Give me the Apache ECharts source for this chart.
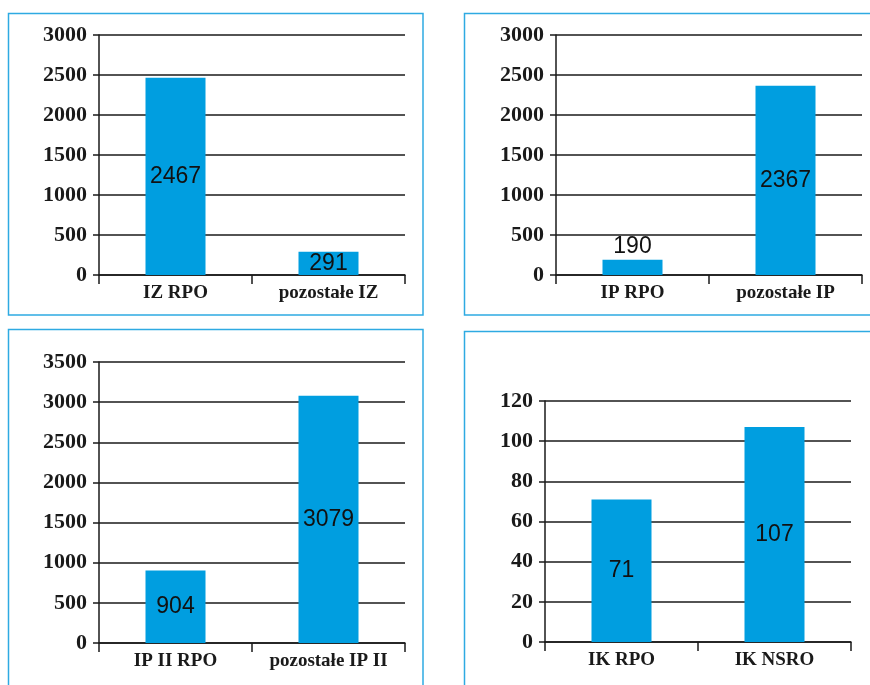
<!DOCTYPE html>
<html>
<head>
<meta charset="utf-8">
<style>
  html, body { margin: 0; padding: 0; background: #fff; }
  #chart { width: 870px; height: 685px; }
</style>
<script src="https://cdn.jsdelivr.net/npm/echarts@6/dist/echarts.min.js"></script>
</head>
<body>
<div id="chart"></div>
<script>
// Panel 1: IZ
const izCategories = ['IZ RPO', 'pozostałe IZ'];
const izValues = [2467, 291];
// Panel 2: IP
const ipCategories = ['IP RPO', 'pozostałe IP'];
const ipValues = [190, 2367];
// Panel 3: IP II
const ip2Categories = ['IP II RPO', 'pozostałe IP II'];
const ip2Values = [904, 3079];
// Panel 4: IK
const ikCategories = ['IK RPO', 'IK NSRO'];
const ikValues = [71, 107];

// Value axis ranges per panel
const axisMax = [3000, 3000, 3500, 120];
const axisStep = [500, 500, 500, 20];

const panels = [
  { cats: izCategories, vals: izValues, grid: { left: 99, top: 35, width: 306, height: 240 }, box: [8.5, 13.5, 414.5, 301.5] },
  { cats: ipCategories, vals: ipValues, grid: { left: 556, top: 35, width: 306, height: 240 }, box: [464.5, 13.5, 430, 301.5] },
  { cats: ip2Categories, vals: ip2Values, grid: { left: 99, top: 362, width: 306, height: 281 }, box: [8.5, 329.5, 414.5, 400] },
  { cats: ikCategories, vals: ikValues, grid: { left: 545, top: 401, width: 306, height: 241 }, box: [464.5, 331.5, 430, 400] }
];

const INK = '#1a1a1a';
const BAR = '#009ee0';
const FRAME = '#2eaae2';
const serif = '"Liberation Serif", "DejaVu Serif", serif';
const sans = '"Liberation Sans", Arial, sans-serif';

const option = {
  animation: false,
  backgroundColor: '#fff',
  grid: panels.map(p => Object.assign({ containLabel: false }, p.grid)),
  xAxis: panels.map((p, i) => ({
    type: 'category',
    gridIndex: i,
    data: p.cats,
    boundaryGap: true,
    axisLine: { show: true, lineStyle: { color: INK, width: 1.5 } },
    axisTick: { show: true, length: 9, alignWithLabel: false, lineStyle: { color: INK, width: 1.5 } },
    axisLabel: {
      interval: 0,
      hideOverlap: false,
      margin: 9,
      color: INK,
      fontFamily: serif,
      fontWeight: 'bold',
      fontSize: 19
    },
    splitLine: { show: false }
  })),
  yAxis: panels.map((p, i) => ({
    type: 'value',
    gridIndex: i,
    min: 0,
    max: axisMax[i],
    interval: axisStep[i],
    axisLine: { show: true, lineStyle: { color: INK, width: 1.5 } },
    axisTick: { show: true, length: 6, lineStyle: { color: INK, width: 1.5 } },
    axisLabel: {
      formatter: v => String(v),
      margin: 12,
      color: INK,
      fontFamily: serif,
      fontWeight: 'bold',
      fontSize: 22,
      padding: [6, 0, 0, 0]
    },
    splitLine: { show: true, lineStyle: { color: INK, width: 1.5 } }
  })),
  series: panels.map((p, i) => ({
    type: 'bar',
    xAxisIndex: i,
    yAxisIndex: i,
    barWidth: 60,
    itemStyle: { color: BAR },
    label: {
      show: true,
      position: 'inside',
      color: '#111',
      fontFamily: sans,
      fontSize: 23
    },
    // short bars carry their number above the bar
    data: p.vals.map(v => (v / axisMax[i] < 0.08)
      ? { value: v, label: { position: 'top', distance: 2 } }
      : v)
  })),
  graphic: panels.map(p => ({
    type: 'rect',
    silent: true,
    z: -1,
    shape: { x: p.box[0], y: p.box[1], width: p.box[2], height: p.box[3] },
    style: { fill: 'none', stroke: FRAME, lineWidth: 1.5 }
  }))
};

echarts.init(document.getElementById('chart'), null, { renderer: 'canvas' }).setOption(option);
</script>
</body>
</html>
